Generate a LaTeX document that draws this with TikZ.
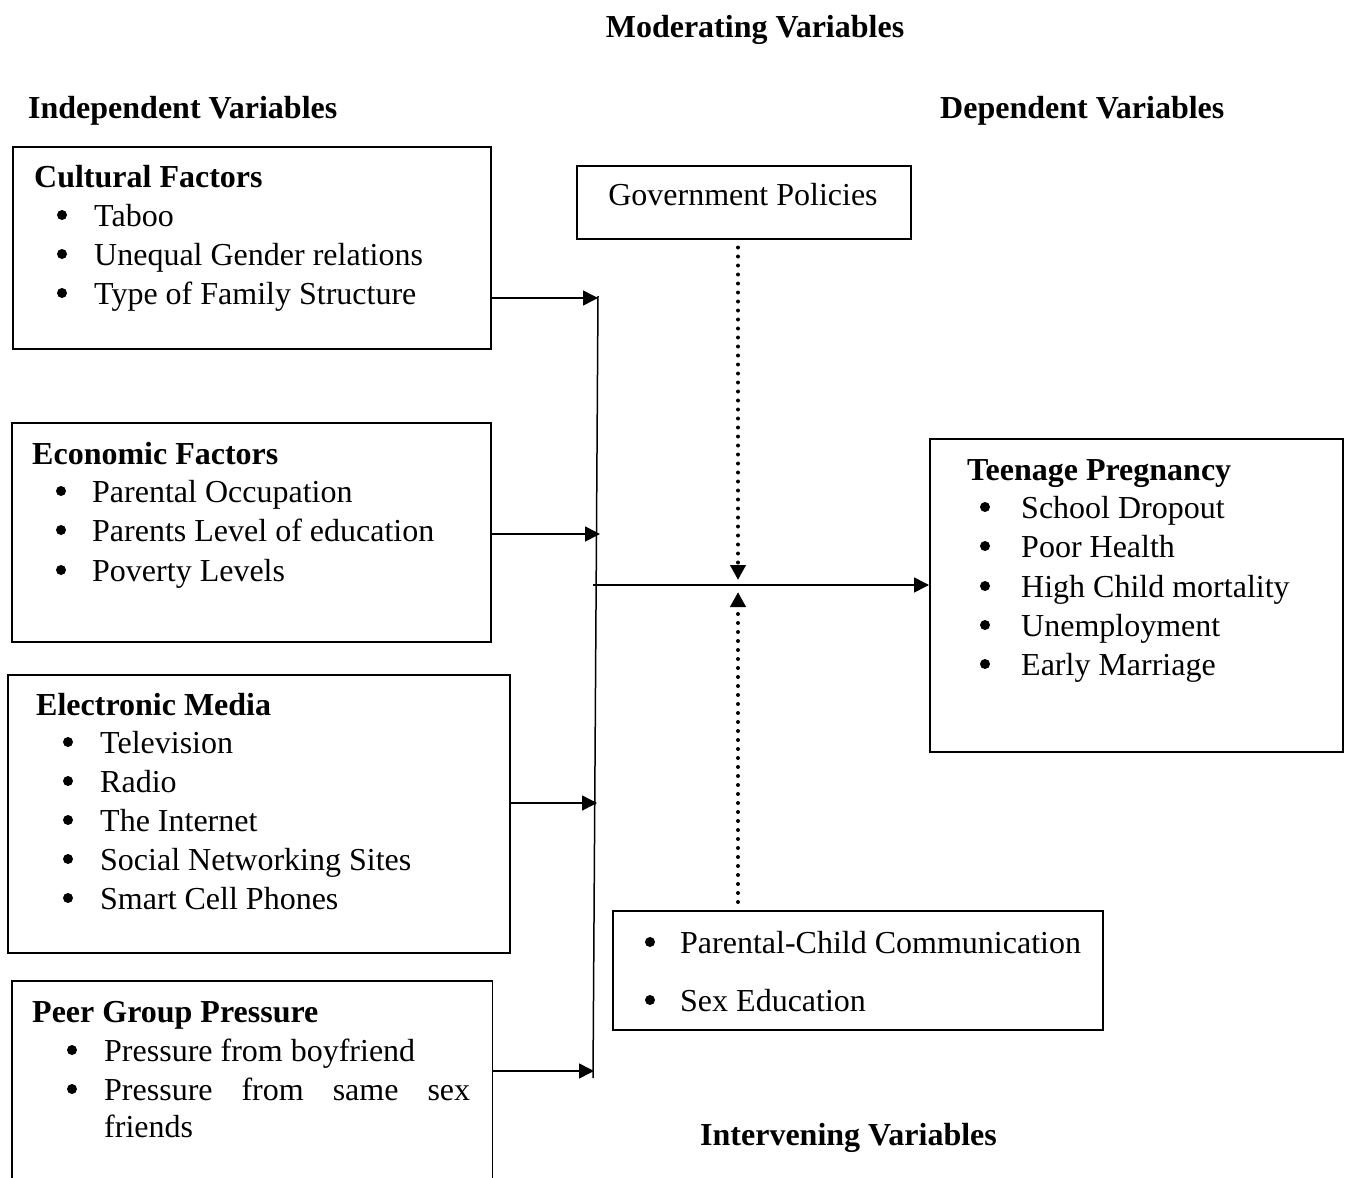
\documentclass[tikz,border=0pt]{standalone}
\usepackage{fontspec}
\setmainfont{Liberation Serif}
\usetikzlibrary{arrows.meta}
\tikzset{
  box/.style={draw, line width=1.5pt, anchor=north west, inner sep=0pt},
  txt/.style={anchor=base west, inner sep=0pt, font=\fontsize{32}{39}\selectfont},
  btxt/.style={txt, font=\fontsize{32}{39}\selectfont\bfseries},
  bul/.style={circle, fill, inner sep=0pt, minimum size=10pt},
  conn/.style={line width=1.5pt, -{Triangle[length=15pt,width=15pt]}},
  dotarr/.style={line width=4pt, line cap=round, dash pattern=on 0pt off 9pt,
     -{Triangle[length=15pt,width=15pt]}, shorten <=8pt}
}
\newcommand\bitem[5]{%
  \node[bul] (#1b) at (#2,#4-11) {};
  \node[txt] (#1) at (#3,#4) {#5};}
\begin{document}
\begin{tikzpicture}[x=1pt,y=-1pt]
\useasboundingbox[fill=white] (0,0) rectangle (1350,1178);

% headings
\node[btxt, anchor=base] (hmod) at (755,37) {Moderating Variables};
\node[btxt] (hind) at (28,118) {Independent Variables};
\node[btxt] (hdep) at (940,118) {Dependent Variables};
\node[btxt] (hint) at (700,1145) {Intervening Variables};

% Cultural factors
\node[box, minimum width=478pt, minimum height=202pt] (cult) at (12,146) {};
\node[btxt] (cultt) at (34,187) {Cultural Factors};
\bitem{c1}{62}{94}{226}{Taboo}
\bitem{c2}{62}{94}{265}{Unequal Gender relations}
\bitem{c3}{62}{94}{304}{Type of Family Structure}

% Government policies
\node[box, minimum width=334pt, minimum height=73pt] (gov) at (576,165) {};
\node[txt, anchor=base] (govt) at (743,205) {Government Policies};

% Economic factors
\node[box, minimum width=479pt, minimum height=219pt] (econ) at (11,422) {};
\node[btxt] (econt) at (32,464) {Economic Factors};
\bitem{e1}{61}{92}{502}{Parental Occupation}
\bitem{e2}{61}{92}{541}{Parents Level of education}
\bitem{e3}{61}{92}{581}{Poverty Levels}

% Electronic media
\node[box, minimum width=502pt, minimum height=278pt] (elec) at (7,674) {};
\node[btxt] (elect) at (36,715) {Electronic Media};
\bitem{m1}{68}{100}{753}{Television}
\bitem{m2}{68}{100}{792}{Radio}
\bitem{m3}{68}{100}{831}{The Internet}
\bitem{m4}{68}{100}{870}{Social Networking Sites}
\bitem{m5}{68}{100}{909}{Smart Cell Phones}

% Peer group pressure (bottom cut off)
\node[anchor=north west, inner sep=0pt, minimum width=480pt, minimum height=200pt] (peer) at (12,981) {};
\draw[line width=1.5pt] (peer.south west) |- (peer.north east) -- (peer.south east);
\node[btxt] (peert) at (32,1022) {Peer Group Pressure};
\bitem{p1}{72}{104}{1061}{Pressure from boyfriend}
\bitem{p2}{72}{104}{1100}{\makebox[366pt][s]{Pressure\hfill from\hfill same\hfill sex}}
\node[txt] (p3) at (104,1137) {friends};

% Teenage pregnancy
\node[box, minimum width=413pt, minimum height=313pt] (teen) at (929,438) {};
\node[btxt] (teent) at (967,480) {Teenage Pregnancy};
\bitem{t1}{985}{1021}{518}{School Dropout}
\bitem{t2}{985}{1021}{557}{Poor Health}
\bitem{t3}{985}{1021}{597}{High Child mortality}
\bitem{t4}{985}{1021}{636}{Unemployment}
\bitem{t5}{985}{1021}{675}{Early Marriage}

% Intervening box
\node[box, minimum width=490pt, minimum height=119pt] (inter) at (612,910) {};
\bitem{i1}{650}{680}{953}{Parental-Child Communication}
\bitem{i2}{650}{680}{1011}{Sex Education}

% spine and connectors
\coordinate (stop) at (598,296);
\coordinate (sbot) at (593,1078);
\draw[line width=1.5pt] (stop) -- (sbot);
\coordinate (s1) at (598,298);
\coordinate (s2) at (600,534);
\coordinate (s3) at (597,803);
\coordinate (s4) at (594,1071);
\draw[conn] (cult.east |- s1) -- (s1);
\draw[conn] (econ.east |- s2) -- (s2);
\draw[conn] (elec.east |- s3) -- (s3);
\draw[conn] (peer.east |- s4) -- (s4);

\coordinate (j) at (593,585);
\draw[conn] (j) -- (teen.west |- j);

\coordinate (d1) at (738,580);
\coordinate (d2) at (738,592);
\draw[dotarr] (gov.south -| d1) -- (d1);
\draw[dotarr] (inter.north -| d2) -- (d2);
\end{tikzpicture}
\end{document}
